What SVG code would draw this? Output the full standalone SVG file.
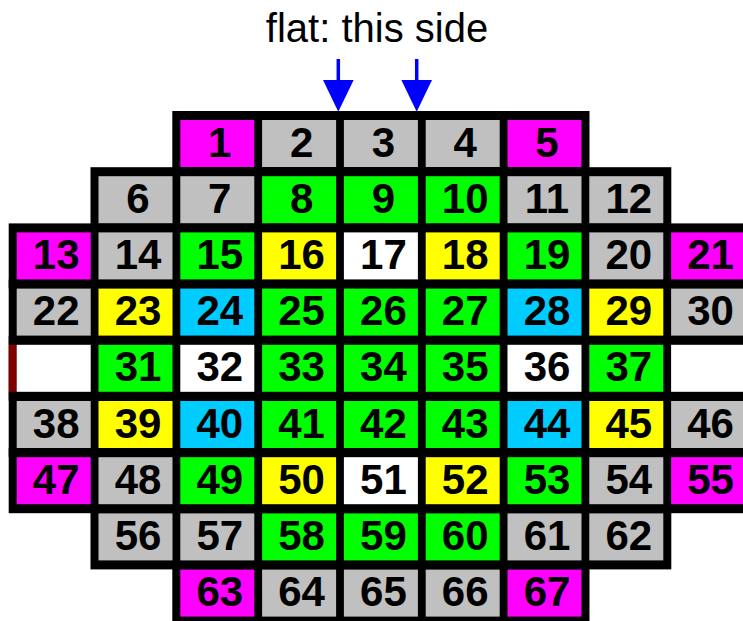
<svg xmlns="http://www.w3.org/2000/svg" width="743" height="621" viewBox="0 0 743 621">
<style>
.frame{fill:#000000}
.m{fill:#FF00FF}
.g{fill:#C0C0C0}
.G{fill:#00FF00}
.Y{fill:#FFFF00}
.C{fill:#00CCFF}
.W{fill:#FFFFFF}
.n{font-family:"Liberation Sans",Arial,sans-serif;font-weight:bold;font-size:42px;fill:#000000;text-anchor:middle}
.title{font-family:"Liberation Sans",Arial,sans-serif;font-size:40px;fill:#000000;text-anchor:middle}
.arrow{stroke:#0000FF;stroke-width:3.5;fill:none}
</style>
<defs>
<marker id="head" viewBox="0 0 32 31" refX="10.3" refY="15.5" markerWidth="32" markerHeight="31" markerUnits="userSpaceOnUse" orient="auto">
<path d="M0,0 L32,15.5 L0,31 z" fill="#0000FF"/>
</marker>
</defs>
<rect width="743" height="621" fill="#FFFFFF"/>
<text class="title" x="377" y="42">flat: this side</text>
<g id="connectors">
<line class="arrow" x1="338.3" y1="59" x2="338.3" y2="90" marker-end="url(#head)"/>
<line class="arrow" x1="416.7" y1="59" x2="416.7" y2="90" marker-end="url(#head)"/>
</g>
<g id="frame">
<rect class="frame" x="172.3" y="111" width="417.2" height="65"/>
<rect class="frame" x="90.5" y="167.2" width="580.8" height="65"/>
<rect class="frame" x="8.7" y="223.4" width="744.3" height="65"/>
<rect class="frame" x="8.7" y="279.6" width="744.3" height="65"/>
<rect class="frame" x="8.7" y="335.8" width="744.3" height="65"/>
<rect class="frame" x="8.7" y="392" width="744.3" height="65"/>
<rect class="frame" x="8.7" y="448.2" width="744.3" height="65"/>
<rect class="frame" x="90.5" y="504.4" width="580.8" height="65"/>
<rect class="frame" x="172.3" y="560.6" width="417.2" height="65"/>
<rect x="8.7" y="344.8" width="8" height="47" fill="#800000"/>
</g>
<g id="empty-left"><rect class="W" x="16.7" y="344.8" width="74" height="47"/></g>
<g id="empty-right"><rect class="W" x="671.1" y="344.8" width="74" height="47"/></g>
<g id="cell1"><rect class="m" x="180.3" y="120" width="74" height="47"/><text class="n" x="219.8" y="156.5">1</text></g>
<g id="cell2"><rect class="g" x="262.1" y="120" width="74" height="47"/><text class="n" x="301.6" y="156.5">2</text></g>
<g id="cell3"><rect class="g" x="343.9" y="120" width="74" height="47"/><text class="n" x="383.4" y="156.5">3</text></g>
<g id="cell4"><rect class="g" x="425.7" y="120" width="74" height="47"/><text class="n" x="465.2" y="156.5">4</text></g>
<g id="cell5"><rect class="m" x="507.5" y="120" width="74" height="47"/><text class="n" x="547" y="156.5">5</text></g>
<g id="cell6"><rect class="g" x="98.5" y="176.2" width="74" height="47"/><text class="n" x="138" y="212.7">6</text></g>
<g id="cell7"><rect class="g" x="180.3" y="176.2" width="74" height="47"/><text class="n" x="219.8" y="212.7">7</text></g>
<g id="cell8"><rect class="G" x="262.1" y="176.2" width="74" height="47"/><text class="n" x="301.6" y="212.7">8</text></g>
<g id="cell9"><rect class="G" x="343.9" y="176.2" width="74" height="47"/><text class="n" x="383.4" y="212.7">9</text></g>
<g id="cell10"><rect class="G" x="425.7" y="176.2" width="74" height="47"/><text class="n" x="465.2" y="212.7">10</text></g>
<g id="cell11"><rect class="g" x="507.5" y="176.2" width="74" height="47"/><text class="n" x="547" y="212.7">11</text></g>
<g id="cell12"><rect class="g" x="589.3" y="176.2" width="74" height="47"/><text class="n" x="628.8" y="212.7">12</text></g>
<g id="cell13"><rect class="m" x="16.7" y="232.4" width="74" height="47"/><text class="n" x="56.2" y="268.9">13</text></g>
<g id="cell14"><rect class="g" x="98.5" y="232.4" width="74" height="47"/><text class="n" x="138" y="268.9">14</text></g>
<g id="cell15"><rect class="G" x="180.3" y="232.4" width="74" height="47"/><text class="n" x="219.8" y="268.9">15</text></g>
<g id="cell16"><rect class="Y" x="262.1" y="232.4" width="74" height="47"/><text class="n" x="301.6" y="268.9">16</text></g>
<g id="cell17"><rect class="W" x="343.9" y="232.4" width="74" height="47"/><text class="n" x="383.4" y="268.9">17</text></g>
<g id="cell18"><rect class="Y" x="425.7" y="232.4" width="74" height="47"/><text class="n" x="465.2" y="268.9">18</text></g>
<g id="cell19"><rect class="G" x="507.5" y="232.4" width="74" height="47"/><text class="n" x="547" y="268.9">19</text></g>
<g id="cell20"><rect class="g" x="589.3" y="232.4" width="74" height="47"/><text class="n" x="628.8" y="268.9">20</text></g>
<g id="cell21"><rect class="m" x="671.1" y="232.4" width="74" height="47"/><text class="n" x="710.6" y="268.9">21</text></g>
<g id="cell22"><rect class="g" x="16.7" y="288.6" width="74" height="47"/><text class="n" x="56.2" y="325.1">22</text></g>
<g id="cell23"><rect class="Y" x="98.5" y="288.6" width="74" height="47"/><text class="n" x="138" y="325.1">23</text></g>
<g id="cell24"><rect class="C" x="180.3" y="288.6" width="74" height="47"/><text class="n" x="219.8" y="325.1">24</text></g>
<g id="cell25"><rect class="G" x="262.1" y="288.6" width="74" height="47"/><text class="n" x="301.6" y="325.1">25</text></g>
<g id="cell26"><rect class="G" x="343.9" y="288.6" width="74" height="47"/><text class="n" x="383.4" y="325.1">26</text></g>
<g id="cell27"><rect class="G" x="425.7" y="288.6" width="74" height="47"/><text class="n" x="465.2" y="325.1">27</text></g>
<g id="cell28"><rect class="C" x="507.5" y="288.6" width="74" height="47"/><text class="n" x="547" y="325.1">28</text></g>
<g id="cell29"><rect class="Y" x="589.3" y="288.6" width="74" height="47"/><text class="n" x="628.8" y="325.1">29</text></g>
<g id="cell30"><rect class="g" x="671.1" y="288.6" width="74" height="47"/><text class="n" x="710.6" y="325.1">30</text></g>
<g id="cell31"><rect class="G" x="98.5" y="344.8" width="74" height="47"/><text class="n" x="138" y="381.3">31</text></g>
<g id="cell32"><rect class="W" x="180.3" y="344.8" width="74" height="47"/><text class="n" x="219.8" y="381.3">32</text></g>
<g id="cell33"><rect class="G" x="262.1" y="344.8" width="74" height="47"/><text class="n" x="301.6" y="381.3">33</text></g>
<g id="cell34"><rect class="G" x="343.9" y="344.8" width="74" height="47"/><text class="n" x="383.4" y="381.3">34</text></g>
<g id="cell35"><rect class="G" x="425.7" y="344.8" width="74" height="47"/><text class="n" x="465.2" y="381.3">35</text></g>
<g id="cell36"><rect class="W" x="507.5" y="344.8" width="74" height="47"/><text class="n" x="547" y="381.3">36</text></g>
<g id="cell37"><rect class="G" x="589.3" y="344.8" width="74" height="47"/><text class="n" x="628.8" y="381.3">37</text></g>
<g id="cell38"><rect class="g" x="16.7" y="401" width="74" height="47"/><text class="n" x="56.2" y="437.5">38</text></g>
<g id="cell39"><rect class="Y" x="98.5" y="401" width="74" height="47"/><text class="n" x="138" y="437.5">39</text></g>
<g id="cell40"><rect class="C" x="180.3" y="401" width="74" height="47"/><text class="n" x="219.8" y="437.5">40</text></g>
<g id="cell41"><rect class="G" x="262.1" y="401" width="74" height="47"/><text class="n" x="301.6" y="437.5">41</text></g>
<g id="cell42"><rect class="G" x="343.9" y="401" width="74" height="47"/><text class="n" x="383.4" y="437.5">42</text></g>
<g id="cell43"><rect class="G" x="425.7" y="401" width="74" height="47"/><text class="n" x="465.2" y="437.5">43</text></g>
<g id="cell44"><rect class="C" x="507.5" y="401" width="74" height="47"/><text class="n" x="547" y="437.5">44</text></g>
<g id="cell45"><rect class="Y" x="589.3" y="401" width="74" height="47"/><text class="n" x="628.8" y="437.5">45</text></g>
<g id="cell46"><rect class="g" x="671.1" y="401" width="74" height="47"/><text class="n" x="710.6" y="437.5">46</text></g>
<g id="cell47"><rect class="m" x="16.7" y="457.2" width="74" height="47"/><text class="n" x="56.2" y="493.7">47</text></g>
<g id="cell48"><rect class="g" x="98.5" y="457.2" width="74" height="47"/><text class="n" x="138" y="493.7">48</text></g>
<g id="cell49"><rect class="G" x="180.3" y="457.2" width="74" height="47"/><text class="n" x="219.8" y="493.7">49</text></g>
<g id="cell50"><rect class="Y" x="262.1" y="457.2" width="74" height="47"/><text class="n" x="301.6" y="493.7">50</text></g>
<g id="cell51"><rect class="W" x="343.9" y="457.2" width="74" height="47"/><text class="n" x="383.4" y="493.7">51</text></g>
<g id="cell52"><rect class="Y" x="425.7" y="457.2" width="74" height="47"/><text class="n" x="465.2" y="493.7">52</text></g>
<g id="cell53"><rect class="G" x="507.5" y="457.2" width="74" height="47"/><text class="n" x="547" y="493.7">53</text></g>
<g id="cell54"><rect class="g" x="589.3" y="457.2" width="74" height="47"/><text class="n" x="628.8" y="493.7">54</text></g>
<g id="cell55"><rect class="m" x="671.1" y="457.2" width="74" height="47"/><text class="n" x="710.6" y="493.7">55</text></g>
<g id="cell56"><rect class="g" x="98.5" y="513.4" width="74" height="47"/><text class="n" x="138" y="549.9">56</text></g>
<g id="cell57"><rect class="g" x="180.3" y="513.4" width="74" height="47"/><text class="n" x="219.8" y="549.9">57</text></g>
<g id="cell58"><rect class="G" x="262.1" y="513.4" width="74" height="47"/><text class="n" x="301.6" y="549.9">58</text></g>
<g id="cell59"><rect class="G" x="343.9" y="513.4" width="74" height="47"/><text class="n" x="383.4" y="549.9">59</text></g>
<g id="cell60"><rect class="G" x="425.7" y="513.4" width="74" height="47"/><text class="n" x="465.2" y="549.9">60</text></g>
<g id="cell61"><rect class="g" x="507.5" y="513.4" width="74" height="47"/><text class="n" x="547" y="549.9">61</text></g>
<g id="cell62"><rect class="g" x="589.3" y="513.4" width="74" height="47"/><text class="n" x="628.8" y="549.9">62</text></g>
<g id="cell63"><rect class="m" x="180.3" y="569.6" width="74" height="47"/><text class="n" x="219.8" y="606.1">63</text></g>
<g id="cell64"><rect class="g" x="262.1" y="569.6" width="74" height="47"/><text class="n" x="301.6" y="606.1">64</text></g>
<g id="cell65"><rect class="g" x="343.9" y="569.6" width="74" height="47"/><text class="n" x="383.4" y="606.1">65</text></g>
<g id="cell66"><rect class="g" x="425.7" y="569.6" width="74" height="47"/><text class="n" x="465.2" y="606.1">66</text></g>
<g id="cell67"><rect class="m" x="507.5" y="569.6" width="74" height="47"/><text class="n" x="547" y="606.1">67</text></g>
</svg>
